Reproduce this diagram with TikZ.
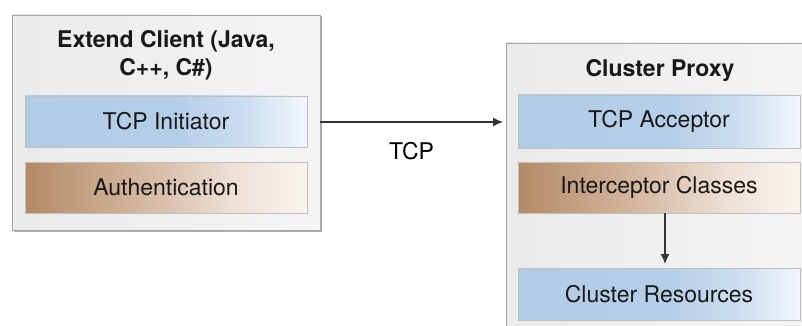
\documentclass[tikz,border=0pt]{standalone}
\usepackage{fontspec}
\setmainfont{TeX Gyre Heros}
\usetikzlibrary{arrows.meta,shadows}
\pgfdeclarehorizontalshading{blueshade}{100bp}{rgb(0bp)=(0.70,0.80,0.90); rgb(25bp)=(0.70,0.80,0.90); rgb(52bp)=(0.71,0.81,0.91); rgb(64bp)=(0.80,0.87,0.94); rgb(75bp)=(0.95,0.97,0.99); rgb(100bp)=(0.95,0.97,0.99)}
\pgfdeclarehorizontalshading{brownshade}{100bp}{rgb(0bp)=(0.70,0.54,0.40); rgb(25bp)=(0.70,0.54,0.40); rgb(47bp)=(0.84,0.73,0.64); rgb(62bp)=(0.93,0.88,0.84); rgb(75bp)=(0.98,0.96,0.94); rgb(100bp)=(0.98,0.96,0.94)}
\pgfdeclarehorizontalshading{greyshade}{100bp}{rgb(0bp)=(0.92,0.92,0.92); rgb(25bp)=(0.92,0.92,0.92); rgb(75bp)=(0.96,0.96,0.96); rgb(100bp)=(0.96,0.96,0.96)}
\begin{document}
\begin{tikzpicture}[x=1pt,y=-1pt,
  font=\fontsize{23}{28}\selectfont,
  outerbox/.style={shading=greyshade, draw=black!35, line width=0.8pt,
    drop shadow={shadow xshift=1.5pt, shadow yshift=-1.5pt, fill=black!45, opacity=0.7}},
  bluebox/.style={shading=blueshade, draw=black!25, line width=0.6pt,
    drop shadow={shadow xshift=1pt, shadow yshift=-1.2pt, fill=black!50, opacity=0.6}},
  brownbox/.style={shading=brownshade, draw=black!25, line width=0.6pt,
    drop shadow={shadow xshift=1pt, shadow yshift=-1.2pt, fill=black!50, opacity=0.6}},
  conn/.style={draw=black!80, line width=1.4pt, -{Latex[length=10pt,width=9pt]}}
]
\useasboundingbox (0,0) rectangle (802,326);
\clip (0,0) rectangle (802,326);
% left group
\path[outerbox] (12,15) rectangle (320,230);
\node[font=\fontsize{23}{28}\selectfont\bfseries, align=center, text=black!90] (t1) at (166,55) {Extend Client (Java,\\C++, C\#)};
\path[bluebox] (25,96) rectangle (307,147);
\node[text=black!90] (tcpi) at (166,121.5) {TCP Initiator};
\path[brownbox] (25,162) rectangle (307,213);
\node[text=black!90] (auth) at (166,187.5) {Authentication};
\coordinate (tcpiR) at (320,122);
% right group
\path[outerbox] (506,43) rectangle (820,340);
\node[font=\fontsize{23}{28}\selectfont\bfseries, text=black!90] (t2) at (660,70) {Cluster Proxy};
\path[bluebox] (518,95) rectangle (800,148);
\node[text=black!90] (tcpa) at (659,121.5) {TCP Acceptor};
\path[brownbox] (518,162) rectangle (800,213);
\node[text=black!90] (inter) at (659,187.5) {Interceptor Classes};
\path[bluebox] (518,268) rectangle (800,320);
\node[text=black!90] (res) at (659,294) {Cluster Resources};
\coordinate (tcpaL) at (503,122);
\coordinate (interB) at (665,213);
\coordinate (resT) at (665,264);
% connectors
\draw[conn] (tcpiR) -- node[below=16pt, text=black] (lbl) {TCP} (tcpaL);
\draw[conn] (interB) -- (resT);
\end{tikzpicture}
\end{document}
